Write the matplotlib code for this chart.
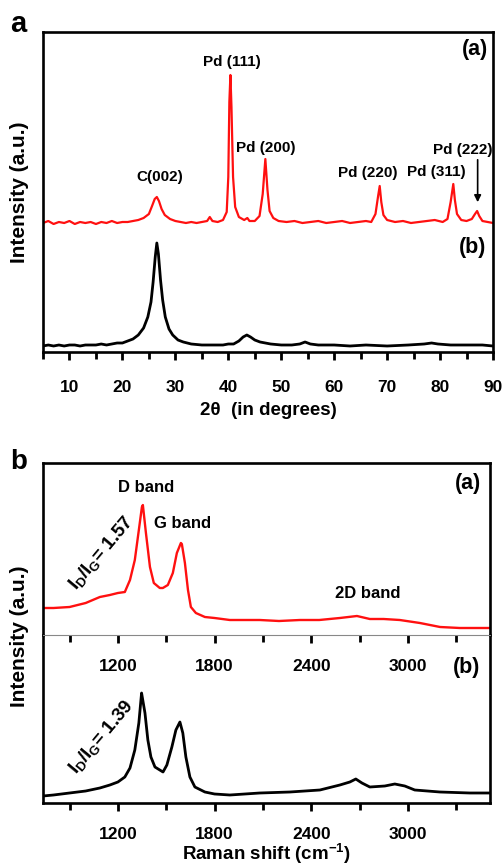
import matplotlib
matplotlib.use('Agg')
import matplotlib.pyplot as plt
from matplotlib.ticker import MultipleLocator

plt.rcParams['font.family'] = ['Liberation Sans', 'DejaVu Sans']
plt.rcParams['font.weight'] = 'bold'
plt.rcParams['mathtext.default'] = 'regular'

# XRD, curve (a) Pd/C, offset upward
xrd_2theta_a = [5, 6, 7, 8, 9, 10, 11, 12, 13, 14,
                15, 16, 17, 18, 19, 20, 21, 22, 23, 24,
                25, 25.6, 26.1, 26.5, 26.9, 27.4, 28, 29, 30, 31,
                32, 33, 34, 35, 36, 36.5, 37, 38, 39, 39.7,
                40.0, 40.2, 40.4, 40.6, 40.9, 41.3, 42, 43, 43.6, 44,
                45, 45.9, 46.5, 47.0, 47.4, 47.8, 48.5, 49.5, 51, 52.5,
                54, 55.5, 57, 58.5, 60, 61.5, 63, 64.5, 66, 67,
                67.8, 68.3, 68.6, 68.9, 69.3, 70, 71.5, 73, 74.5, 76,
                77.5, 79, 80.5, 81.4, 82.0, 82.5, 82.8, 83.2, 84, 85,
                86, 86.6, 87.0, 87.4, 88, 89, 90]
xrd_int_a = [129, 131, 128, 130, 129, 131, 128, 130, 129, 130,
             128, 130, 129, 131, 129, 130, 130, 131, 132, 134,
             138, 146, 153, 155, 151, 143, 137, 133, 131, 130,
             129, 130, 129, 130, 131, 135, 131, 130, 132, 140,
             175, 250, 277, 245, 175, 145, 135, 132, 134, 131,
             131, 136, 158, 193, 162, 141, 134, 131, 130, 131,
             129, 130, 131, 129, 130, 131, 129, 130, 131, 130,
             138, 156, 166, 150, 137, 132, 130, 131, 129, 130,
             131, 132, 130, 133, 150, 168, 152, 138, 132, 131,
             133, 138, 141, 136, 131, 130, 129]

# XRD, curve (b) carbon
xrd_2theta_b = [5, 6, 7, 8, 9, 10, 11, 12, 13, 14,
                15, 16, 17, 18, 19, 20, 21, 22, 23, 24,
                24.8, 25.4, 25.8, 26.2, 26.5, 26.8, 27.2, 27.6, 28.1, 28.8,
                29.5, 30.5, 31.5, 33, 35, 37, 39, 40, 41, 42,
                42.8, 43.5, 44.2, 45, 46, 47, 48, 50, 52, 53.5,
                54.5, 55.5, 57, 60, 63, 66, 70, 74, 77, 78.4,
                79.6, 82, 85, 88, 90]
xrd_int_b = [6, 7, 6, 7, 6, 7, 7, 6, 7, 7,
             7, 8, 7, 8, 9, 9, 11, 13, 17, 24,
             35, 50, 70, 95, 109, 98, 72, 52, 35, 23,
             17, 12, 10, 8, 7, 7, 7, 8, 8, 11,
             15, 17, 15, 12, 10, 9, 8, 7, 7, 8,
             10, 8, 7, 7, 6, 7, 6, 7, 8, 9,
             8, 7, 7, 7, 6]

xrd_labels = ['C(002)', 'Pd (111)', 'Pd (200)', 'Pd (220)', 'Pd (311)', 'Pd (222)']
xrd_label_x = [27.1, 40.7, 47.1, 66.4, 79.2, 84.3]
xrd_label_y = [175, 290, 204, 179, 180, 202]

# Raman spectra
raman_shift_a = [735, 800, 900, 1000, 1088, 1150, 1200, 1243, 1275, 1305,
                 1330, 1349, 1355, 1374, 1399, 1423, 1460, 1479, 1510, 1541,
                 1566, 1591, 1597, 1616, 1635, 1653, 1684, 1740, 1800, 1895,
                 2000, 2081, 2200, 2330, 2450, 2578, 2684, 2764, 2850, 2950,
                 3075, 3200, 3323, 3420, 3505]
raman_int_a = [27, 27, 28, 32, 38, 40, 42, 43, 55, 75,
               105, 128, 130, 102, 68, 52, 47, 47, 50, 62,
               82, 92, 91, 72, 45, 28, 22, 18, 17, 15,
               15, 15, 14, 15, 15, 17, 19, 16, 16, 15,
               12, 8, 7, 7, 7]
raman_shift_b = [735, 800, 900, 1000, 1088, 1150, 1200, 1243, 1275, 1305,
                 1330, 1343, 1347, 1368, 1386, 1405, 1430, 1460, 1480, 1504,
                 1535, 1560, 1585, 1603, 1622, 1647, 1678, 1740, 1800, 1895,
                 2081, 2268, 2454, 2578, 2640, 2677, 2715, 2764, 2857, 2919,
                 2981, 3043, 3199, 3385, 3505]
raman_int_b = [7, 8, 10, 12, 15, 18, 21, 26, 35, 53,
               80, 103, 110, 90, 63, 46, 36, 33, 31, 38,
               56, 73, 81, 70, 46, 26, 16, 11, 9, 8,
               10, 11, 13, 18, 21, 24, 20, 16, 17, 19,
               17, 13, 11, 10, 10]

red = '#ff1010'
spw = 1.9

fig = plt.figure(figsize=(5.04, 8.65), dpi=100)

# ---- panel a : XRD ----
ax1 = fig.add_axes([43/504, 1 - 352/865, 450/504, 320/865])
ax1.plot(xrd_2theta_a, xrd_int_a, color=red, lw=1.6)
ax1.plot(xrd_2theta_b, xrd_int_b, color='black', lw=2.0)
ax1.set_xlim(5, 90)
ax1.set_ylim(0, 320)
ax1.set_yticks([])
ax1.xaxis.set_major_locator(MultipleLocator(10))
ax1.xaxis.set_minor_locator(MultipleLocator(5))
ax1.tick_params(axis='x', which='major', direction='out', length=6, width=2,
                labelsize=12.5, pad=14)
ax1.tick_params(axis='x', which='minor', direction='out', length=5, width=2)
for lbl in ax1.get_xticklabels():
    lbl.set_fontweight('bold')
for s in ax1.spines.values():
    s.set_linewidth(spw)
ax1.set_xlabel('2\u03b8  (in degrees)', fontsize=13.5, fontweight='bold', labelpad=5)

for t, x, y in zip(xrd_labels, xrd_label_x, xrd_label_y):
    ax1.text(x, y, t, ha='center', va='center', fontsize=11, fontweight='bold')
ax1.annotate('', xy=(87.1, 147), xytext=(87.1, 195),
             arrowprops=dict(arrowstyle='-|>', color='black', lw=1.2,
                             mutation_scale=10))
ax1.text(86.6, 302, '(a)', ha='center', va='center', fontsize=15.5, fontweight='bold')
ax1.text(86.2, 105, '(b)', ha='center', va='center', fontsize=15.5, fontweight='bold')

# ---- panel b : Raman ----
ax2 = fig.add_axes([43/504, 1 - 635/865, 447/504, 172/865])
ax3 = fig.add_axes([43/504, 1 - 803/865, 447/504, 168/865])
ax3.set_facecolor('none')
ax2.set_zorder(3)
ax2.set_facecolor('none')
ax2.plot(raman_shift_a, raman_int_a, color=red, lw=1.7)
ax3.plot(raman_shift_b, raman_int_b, color='black', lw=2.0)
ax2.set_ylim(0, 172)
ax3.set_ylim(0, 168)
for ax in (ax2, ax3):
    ax.set_xlim(735, 3510)
    ax.set_yticks([])
    ax.set_xticks([1200, 1800, 2400, 3000])
    ax.set_xticks([900, 1500, 2100, 2700, 3300], minor=True)
    ax.tick_params(axis='x', which='major', direction='out', length=6, width=2,
                   labelsize=12.5, pad=11)
    ax.tick_params(axis='x', which='minor', direction='out', length=5, width=2)
    for lbl in ax.get_xticklabels():
        lbl.set_fontweight('bold')
    for s in ax.spines.values():
        s.set_linewidth(spw)
ax2.spines['bottom'].set_linewidth(0.8)
ax2.spines['bottom'].set_color('#888888')
ax3.spines['top'].set_visible(False)
ax3.set_xlabel('Raman shift (cm$^{-1}$)', fontsize=13.5, fontweight='bold', labelpad=0)

ax2.text(1373, 148, 'D band', ha='center', va='center', fontsize=12, fontweight='bold')
ax2.text(1603, 112, 'G band', ha='center', va='center', fontsize=12, fontweight='bold')
ax2.text(2748, 41, '2D band', ha='center', va='center', fontsize=12, fontweight='bold')
ax2.text(3372, 151, '(a)', ha='center', va='center', fontsize=15.5, fontweight='bold')
ax2.text(1100, 82, 'I$_D$/I$_G$= 1.57', ha='center', va='center', fontsize=13.5,
         fontweight='bold', rotation=50)
ax3.text(3366, 136, '(b)', ha='center', va='center', fontsize=15.5, fontweight='bold')
ax3.text(1100, 66, 'I$_D$/I$_G$= 1.39', ha='center', va='center', fontsize=13.5,
         fontweight='bold', rotation=50)

# panel letters and y labels
fig.text(18/504, 1 - 24/865, 'a', ha='center', va='center', fontsize=21, fontweight='bold')
fig.text(19/504, 1 - 462/865, 'b', ha='center', va='center', fontsize=20, fontweight='bold')
fig.text(20/504, 1 - 192/865, 'Intensity (a.u.)', ha='center', va='center',
         rotation=90, fontsize=15, fontweight='bold')
fig.text(20/504, 1 - 636/865, 'Intensity (a.u.)', ha='center', va='center',
         rotation=90, fontsize=15, fontweight='bold')

fig.savefig('out.png', dpi=100)
